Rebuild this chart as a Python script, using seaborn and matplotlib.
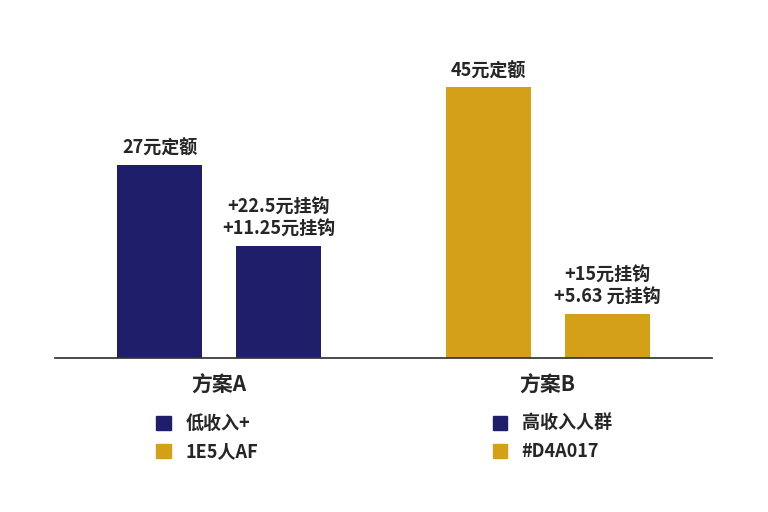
import matplotlib
matplotlib.use("Agg")
import matplotlib.pyplot as plt
import seaborn as sns
import pandas as pd
from matplotlib.patches import Patch

sns.set_theme(style="white")
plt.rcParams['font.family'] = ['Noto Sans CJK SC', 'DejaVu Sans']

plans = ["方案A", "方案A", "方案B", "方案B"]
series = ["定额", "挂钩", "定额", "挂钩"]
heights = [27, 15.7, 37.9, 6.2]
labels = ["27元定额", "+22.5元挂钩\n+11.25元挂钩", "45元定额", "+15元挂钩\n+5.63 元挂钩"]
bar_colors = ["#1E1E6B", "#1E1E6B", "#D4A017", "#D4A017"]
legend_labels = ["低收入+", "1E5人AF", "高收入人群", "#D4A017"]
legend_colors = ["#1E1E6B", "#D4A017", "#1E1E6B", "#D4A017"]

df = pd.DataFrame({"plan": plans, "series": series, "value": heights})

fig = plt.figure(figsize=(7.68, 5.12), dpi=100)
ax = fig.add_axes([55/768, 154/512, 657/768, 300/512])
sns.barplot(data=df, x="plan", y="value", hue="series", width=0.723, gap=0.286,
            legend=False, ax=ax)

patches = sorted(ax.patches, key=lambda p: p.get_x())
for p, c, lab in zip(patches, bar_colors, labels):
    p.set_facecolor(c)
    p.set_edgecolor("none")
    ax.annotate(lab, (p.get_x() + p.get_width() / 2, p.get_height()),
                xytext=(0, 5), textcoords="offset points", ha="center", va="bottom",
                fontsize=13, fontweight="bold", linespacing=1.2)

ax.set_xlim(-0.5, 1.5)
ax.set_ylim(0, 42)
ax.set_xlabel("")
ax.set_ylabel("")
ax.set_yticks([])
for s in ["top", "right", "left"]:
    ax.spines[s].set_visible(False)
ax.spines["bottom"].set_color("#333333")
ax.tick_params(axis="x", length=0, pad=12, labelsize=15)
for t in ax.get_xticklabels():
    t.set_fontweight("bold")

handles = [Patch(color=c) for c in legend_colors]
fig.legend(handles, legend_labels, ncol=2, loc="center", bbox_to_anchor=(0.5, 0.145),
           frameon=False, columnspacing=13, handlelength=0.8, handleheight=0.8,
           prop={"weight": "bold", "size": 13}, labelspacing=0.5)

fig.savefig("out.png", dpi=100)
